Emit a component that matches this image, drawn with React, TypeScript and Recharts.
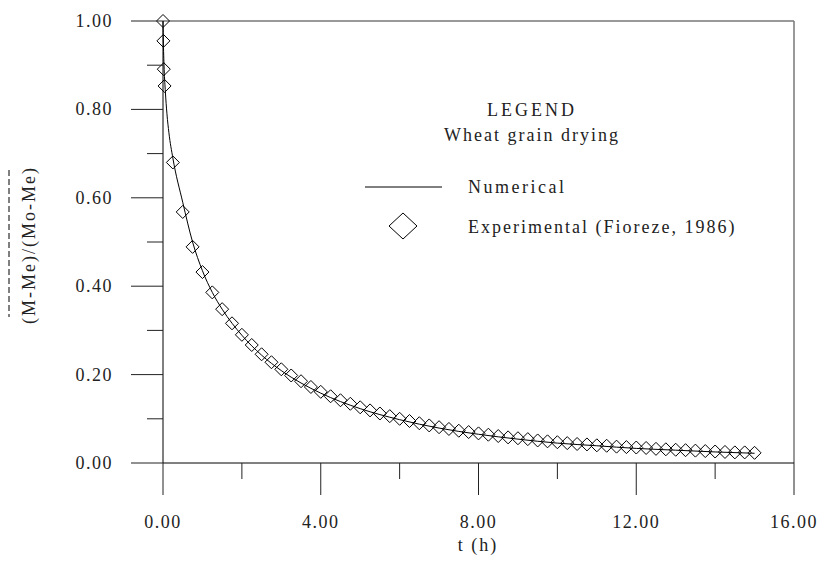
import React from "react";
import { ComposedChart, Line, Scatter, XAxis, YAxis, ReferenceLine } from "recharts";

const FONT = "Liberation Serif, Times New Roman, DejaVu Serif, serif";

// x axis ticks (h) — labels only on majors
const xTicks = [0, 2, 4, 6, 8, 10, 12, 14, 16];
const xMajor = [0, 4, 8, 12, 16];
// y axis ticks — labels only on majors
const yTicks = [0, 0.1, 0.2, 0.3, 0.4, 0.5, 0.6, 0.7, 0.8, 0.9, 1.0];
const yMajor = [0, 0.2, 0.4, 0.6, 0.8, 1.0];

// numerical solution
const numT = [0, 0.01, 0.03, 0.06, 0.1, 0.15, 0.25, 0.5, 0.75, 1.0, 1.25, 1.5, 2, 2.5, 3, 3.5, 4, 5, 6, 7, 8, 9, 10, 11, 12, 13, 14, 15];
const numV = [1.0, 0.95, 0.89, 0.84, 0.79, 0.747, 0.69, 0.59, 0.5, 0.435, 0.386, 0.348, 0.289, 0.244, 0.209, 0.181, 0.158, 0.123, 0.098, 0.079, 0.065, 0.054, 0.045, 0.039, 0.033, 0.029, 0.025, 0.022];

// experimental (Fioreze, 1986)
const expT = [
  0, 0.01, 0.02, 0.04,
  0.25, 0.5, 0.75, 1.0, 1.25, 1.5, 1.75, 2.0, 2.25, 2.5, 2.75, 3.0,
  3.25, 3.5, 3.75, 4.0, 4.25, 4.5, 4.75, 5.0, 5.25, 5.5, 5.75, 6.0,
  6.25, 6.5, 6.75, 7.0, 7.25, 7.5, 7.75, 8.0, 8.25, 8.5, 8.75, 9.0,
  9.25, 9.5, 9.75, 10.0, 10.25, 10.5, 10.75, 11.0, 11.25, 11.5, 11.75, 12.0,
  12.25, 12.5, 12.75, 13.0, 13.25, 13.5, 13.75, 14.0, 14.25, 14.5, 14.75, 15.0,
];
const expV = [
  1.0, 0.955, 0.891, 0.853,
  0.68, 0.568, 0.489, 0.432, 0.386, 0.348, 0.316, 0.29, 0.267, 0.246, 0.228, 0.212,
  0.198, 0.185, 0.172, 0.161, 0.151, 0.142, 0.134, 0.126, 0.119, 0.112, 0.106, 0.1,
  0.095, 0.09, 0.085, 0.081, 0.077, 0.073, 0.07, 0.067, 0.064, 0.061, 0.058, 0.056,
  0.054, 0.051, 0.049, 0.047, 0.045, 0.043, 0.042, 0.04, 0.039, 0.037, 0.036, 0.035,
  0.034, 0.032, 0.031, 0.03, 0.029, 0.028, 0.027, 0.026, 0.025, 0.024, 0.024, 0.023,
];

const numData = numT.map((t, i) => ({ t, v: numV[i] }));
const expData = expT.map((t, i) => ({ t, v: expV[i] }));

const PLOT_LEFT = 163;
const PLOT_BOTTOM = 463;

const textStyle = { fontFamily: FONT, fontSize: 18 };

const isMajor = (list: number[], v: number) => list.some((m) => Math.abs(m - v) < 1e-6);

const YTick = (props: any) => {
  const { y, payload } = props;
  const major = isMajor(yMajor, payload.value);
  return (
    <g>
      <line x1={PLOT_LEFT - (major ? 32 : 16)} x2={PLOT_LEFT} y1={y} y2={y} stroke="#222" strokeWidth={1} />
      {major && (
        <text x={PLOT_LEFT - 50} y={y + 6} textAnchor="end" style={{ ...textStyle, letterSpacing: 1.5 }} fill="#222">
          {payload.value.toFixed(2)}
        </text>
      )}
    </g>
  );
};

const XTick = (props: any) => {
  const { x, payload } = props;
  const major = isMajor(xMajor, payload.value);
  return (
    <g>
      <line x1={x} x2={x} y1={PLOT_BOTTOM} y2={PLOT_BOTTOM + (major ? 32 : 16)} stroke="#222" strokeWidth={1} />
      {major && (
        <text x={x} y={528} textAnchor="middle" style={{ ...textStyle, letterSpacing: 1.5 }} fill="#222">
          {payload.value.toFixed(2)}
        </text>
      )}
    </g>
  );
};

const Diamond = (props: any) => {
  const { cx, cy } = props;
  if (cx == null || cy == null) return null;
  const r = 6.5;
  return (
    <path
      d={`M${cx},${cy - r} L${cx + r},${cy} L${cx},${cy + r} L${cx - r},${cy} Z`}
      fill="none"
      stroke="#000"
      strokeWidth={1}
    />
  );
};

export default function App() {
  return (
    <div style={{ position: "absolute", left: 0, top: 0, width: 819, height: 561, background: "#fff" }}>
      <ComposedChart width={819} height={561} margin={{ top: 21, right: 25, bottom: 58, left: 103 }}>
        <XAxis
          dataKey="t"
          type="number"
          domain={[0, 16]}
          ticks={xTicks}
          tick={<XTick />}
          tickLine={false}
          axisLine={{ stroke: "#000" }}
          height={40}
        />
        <YAxis
          type="number"
          domain={[0, 1]}
          ticks={yTicks}
          tick={<YTick />}
          tickLine={false}
          axisLine={{ stroke: "#000" }}
          width={60}
        />
        <ReferenceLine y={1} stroke="#777" strokeWidth={1.5} />
        <ReferenceLine x={16} stroke="#777" strokeWidth={1.5} />
        <Line
          data={numData}
          dataKey="v"
          type="monotone"
          stroke="#000"
          strokeWidth={1}
          dot={false}
          activeDot={false}
          isAnimationActive={false}
        />
        <Scatter data={expData} dataKey="v" shape={<Diamond />} isAnimationActive={false} />
      </ComposedChart>
      <svg width={819} height={561} style={{ position: "absolute", left: 0, top: 0, pointerEvents: "none" }}>
        {/* y axis title with dashed overline */}
        <line x1={9} x2={9} y1={170} y2={317} stroke="#000" strokeWidth={1} strokeDasharray="6 3" />
        <text
          transform="translate(35,245) rotate(-90)"
          textAnchor="middle"
          style={{ ...textStyle, letterSpacing: 2 }}
          fill="#222"
        >
          (M-Me)/(Mo-Me)
        </text>
        {/* x axis title */}
        <text x={478} y={551} textAnchor="middle" style={{ ...textStyle, letterSpacing: 2 }} fill="#222">
          t (h)
        </text>
        {/* legend */}
        <text x={532} y={116} textAnchor="middle" style={{ ...textStyle, letterSpacing: 3 }} fill="#222">
          LEGEND
        </text>
        <text x={532} y={141} textAnchor="middle" style={{ ...textStyle, letterSpacing: 2 }} fill="#222">
          Wheat grain drying
        </text>
        <line x1={365} x2={442} y1={187} y2={187} stroke="#000" strokeWidth={1} />
        <text x={468} y={193} style={{ ...textStyle, letterSpacing: 2.5 }} fill="#222">
          Numerical
        </text>
        <path d="M403,213 L417,226 L403,239 L389,226 Z" fill="none" stroke="#000" strokeWidth={1} />
        <text x={468} y={233} style={{ ...textStyle, letterSpacing: 2 }} fill="#222">
          Experimental (Fioreze, 1986)
        </text>
      </svg>
    </div>
  );
}
